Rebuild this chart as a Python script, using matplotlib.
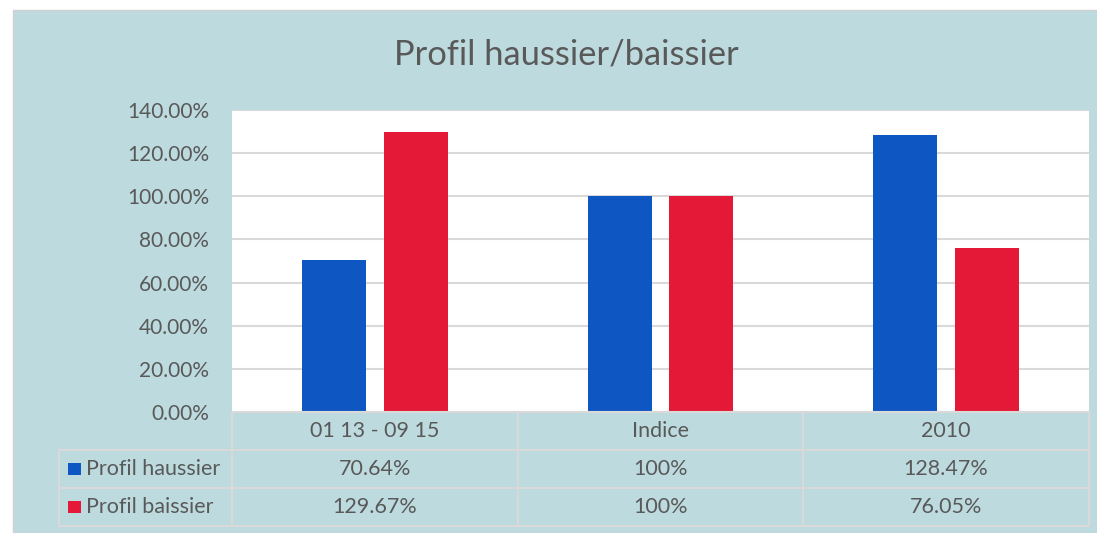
import matplotlib.pyplot as plt
from matplotlib.patches import Rectangle
import numpy as np

# data
categories = ["01 13 - 09 15", "Indice", "2010"]
series_names = ["Profil haussier", "Profil baissier"]
haussier = [70.64, 100, 128.47]
baissier = [129.67, 100, 76.05]
y_ticks = [0, 20, 40, 60, 80, 100, 120, 140]

colors = ["#0E57C3", "#E31937"]
bg = "#BDDBDF"
grid_c = "#D9D9D9"
text_c = "#595959"

plt.rcParams['font.family'] = ['Lato', 'DejaVu Sans']

W, H = 1097, 533
fig = plt.figure(figsize=(W / 100, H / 100), dpi=100)
fig.patch.set_facecolor("white")


def px(x0, y0, x1, y1):
    # pixel box -> figure fraction rect
    return [x0 / W, 1 - y1 / H, (x1 - x0) / W, (y1 - y0) / H]


# chart background
fig.patches.append(Rectangle((13 / W, 0), 1 - 13 / W, 1 - 10 / H,
                             transform=fig.transFigure, facecolor=bg,
                             edgecolor="#D0D0D0", linewidth=1, zorder=-10))

fig.text(566 / W, 1 - 55 / H, "Profil haussier/baissier", ha="center",
         va="center", fontsize=24.8, color=text_c)

# main plot area
ax = fig.add_axes(px(232, 110, 1089, 412))
ax.set_facecolor("white")
x = np.arange(len(categories))
bw = 0.224
off = 0.143
ax.bar(x - off, haussier, bw, color=colors[0], zorder=3)
ax.bar(x + off, baissier, bw, color=colors[1], zorder=3)
ax.set_xlim(-0.5, len(categories) - 0.5)
ax.set_ylim(0, 140)
ax.set_yticks(y_ticks)
ax.set_yticklabels([f"{v:.2f}%" for v in y_ticks])
ax.set_xticks([])
ax.tick_params(axis="y", length=0, pad=16.5, labelsize=15, labelcolor=text_c)
ax.grid(axis="y", color=grid_c, linewidth=1.5, zorder=0)
for s in ax.spines.values():
    s.set_visible(False)

# data table below, sharing x units with the plot
left_data = -0.5 - (232 - 59) / ((1089 - 232) / len(categories))
tab = fig.add_axes(px(59, 412, 1089, 526))
tab.set_xlim(left_data, len(categories) - 0.5)
tab.set_ylim(3, 0)
tab.axis("off")
tab.patch.set_alpha(0)

lc = dict(color=grid_c, linewidth=1.5, clip_on=False)
# horizontal lines
tab.plot([-0.5, len(categories) - 0.5], [0, 0], **lc)
for r in [1, 2, 3]:
    tab.plot([left_data, len(categories) - 0.5], [r, r], **lc)
# vertical lines
for c in range(len(categories) + 1):
    tab.plot([c - 0.5, c - 0.5], [0, 3], **lc)
tab.plot([left_data, left_data], [1, 3], **lc)

for i, cat in enumerate(categories):
    tab.text(i, 0.5, cat, ha="center", va="center", fontsize=15.5, color=text_c)


def fmt(v):
    return f"{v:.0f}%" if float(v).is_integer() else f"{v:.2f}%"


for r, (name, vals, col) in enumerate(zip(series_names, [haussier, baissier], colors), start=1):
    key_w = 0.045
    tab.add_patch(Rectangle((left_data + 0.033, r + 0.5 - 0.17), key_w, 0.34,
                            facecolor=col, edgecolor="none", clip_on=False))
    tab.text(left_data + 0.095, r + 0.5, name, ha="left", va="center",
             fontsize=15.5, color=text_c)
    for i, v in enumerate(vals):
        tab.text(i, r + 0.5, fmt(v), ha="center", va="center",
                 fontsize=15.5, color=text_c)

fig.savefig("out.png", dpi=100)
